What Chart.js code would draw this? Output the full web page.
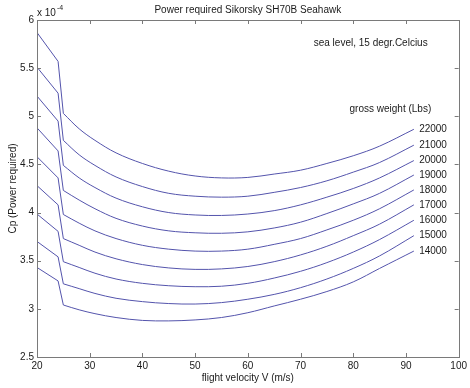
<!DOCTYPE html>
<html>
<head>
<meta charset="utf-8">
<script src="https://cdn.jsdelivr.net/npm/chart.js@4.4.1/dist/chart.umd.min.js"></script>
<style>
  html, body { margin: 0; padding: 0; background: #fff; }
  #wrap { width: 470px; height: 388px; }
</style>
</head>
<body>
<div id="wrap"><canvas id="chart" width="470" height="388"></canvas></div>
<script>
// flight velocity V (m/s), shared by all curves
const velocity = [20, 24, 25, 28, 31, 35, 40, 45, 50, 55, 60, 65, 70, 75, 80, 85, 91.5];

// gross weights (Lbs), top curve first
const weights = [22000, 21000, 20000, 19000, 18000, 17000, 16000, 15000, 14000];

// Cp (x 10^-4)
const cp22000 = [5.87, 5.57, 5.03, 4.87, 4.75, 4.62, 4.51, 4.43, 4.38, 4.36, 4.365, 4.40, 4.44, 4.51, 4.59, 4.69, 4.865];
const cp21000 = [5.51, 5.24, 4.75, 4.60, 4.49, 4.37, 4.27, 4.20, 4.17, 4.16, 4.17, 4.21, 4.26, 4.33, 4.42, 4.52, 4.70];
const cp20000 = [5.21, 4.95, 4.49, 4.36, 4.26, 4.15, 4.06, 4.00, 3.975, 3.97, 3.985, 4.02, 4.08, 4.16, 4.25, 4.36, 4.54];
const cp19000 = [4.88, 4.64, 4.23, 4.13, 4.04, 3.94, 3.86, 3.81, 3.79, 3.785, 3.80, 3.84, 3.90, 3.99, 4.09, 4.20, 4.39];
const cp18000 = [4.58, 4.36, 3.98, 3.89, 3.81, 3.73, 3.66, 3.62, 3.60, 3.60, 3.62, 3.67, 3.73, 3.82, 3.92, 4.04, 4.235];
const cp17000 = [4.28, 4.08, 3.73, 3.66, 3.59, 3.52, 3.46, 3.425, 3.41, 3.415, 3.44, 3.49, 3.56, 3.65, 3.76, 3.88, 4.08];
const cp16000 = [3.985, 3.805, 3.49, 3.43, 3.37, 3.31, 3.265, 3.24, 3.23, 3.235, 3.265, 3.32, 3.39, 3.48, 3.59, 3.72, 3.92];
const cp15000 = [3.70, 3.54, 3.26, 3.21, 3.16, 3.11, 3.075, 3.055, 3.05, 3.065, 3.10, 3.15, 3.22, 3.31, 3.42, 3.55, 3.76];
const cp14000 = [3.43, 3.29, 3.04, 2.99, 2.95, 2.91, 2.88, 2.875, 2.885, 2.91, 2.96, 3.03, 3.10, 3.18, 3.28, 3.42, 3.60];

const xTicks = [20, 30, 40, 50, 60, 70, 80, 90, 100];
const yTicks = [2.5, 3, 3.5, 4, 4.5, 5, 5.5, 6];

const series = [cp22000, cp21000, cp20000, cp19000, cp18000, cp17000, cp16000, cp15000, cp14000];

const lineColor = "#5454ac";
const axisColor = "#7a7a7a";
const textColor = "#1a1a1a";
const font = "10px 'Liberation Sans', Arial, sans-serif";

// split each curve: straight low-speed part (first 3 points) and smooth part
const datasets = [];
series.forEach((vals, i) => {
  const pts = velocity.map((v, k) => ({ x: v, y: vals[k] }));
  datasets.push({
    label: weights[i] + " low",
    data: pts.slice(0, 3),
    borderColor: lineColor,
    borderWidth: 1,
    pointRadius: 0,
    tension: 0,
  });
  datasets.push({
    label: String(weights[i]),
    data: pts.slice(2),
    borderColor: lineColor,
    borderWidth: 1,
    pointRadius: 0,
    tension: 0.35,
  });
});

// box, inward ticks and all the text annotations
const matlabAxes = {
  id: "matlabAxes",
  afterDraw(chart) {
    const { ctx, chartArea: a, scales } = chart;
    const xs = scales.x, ys = scales.y;
    const tl = 4;
    ctx.save();
    ctx.strokeStyle = axisColor;
    ctx.lineWidth = 1;
    ctx.strokeRect(Math.round(a.left) + 0.5, Math.round(a.top) + 0.5,
      Math.round(a.right - a.left), Math.round(a.bottom - a.top));
    ctx.beginPath();
    xTicks.forEach((t) => {
      const px = Math.round(xs.getPixelForValue(t)) + 0.5;
      ctx.moveTo(px, a.bottom); ctx.lineTo(px, a.bottom - tl);
      ctx.moveTo(px, a.top); ctx.lineTo(px, a.top + tl);
    });
    yTicks.forEach((t) => {
      const py = Math.round(ys.getPixelForValue(t)) + 0.5;
      ctx.moveTo(a.left, py); ctx.lineTo(a.left + tl, py);
      ctx.moveTo(a.right, py); ctx.lineTo(a.right - tl, py);
    });
    ctx.stroke();

    ctx.fillStyle = textColor;
    ctx.font = font;
    ctx.textBaseline = "middle";

    // title
    ctx.textAlign = "center";
    ctx.fillText("Power required Sikorsky SH70B Seahawk", (a.left + a.right) / 2, 10);

    // x axis label
    ctx.fillText("flight velocity V (m/s)", (a.left + a.right) / 2, 378);

    // y axis label
    ctx.save();
    ctx.translate(13, (a.top + a.bottom) / 2);
    ctx.rotate(-Math.PI / 2);
    ctx.fillText("Cp (Power required)", 0, 0);
    ctx.restore();

    // exponent
    ctx.textAlign = "left";
    ctx.fillText("x 10", a.left, 13);
    const w = ctx.measureText("x 10").width;
    ctx.font = "7px 'Liberation Sans', Arial, sans-serif";
    ctx.fillText("-4", a.left + w + 1, 8);
    ctx.font = font;

    // notes
    ctx.fillText("sea level, 15 degr.Celcius", xs.getPixelForValue(72.5), ys.getPixelForValue(5.76));
    ctx.fillText("gross weight (Lbs)", xs.getPixelForValue(79.3), ys.getPixelForValue(5.07));

    // curve labels at curve ends
    const last = velocity.length - 1;
    series.forEach((vals, i) => {
      ctx.fillText(String(weights[i]), xs.getPixelForValue(velocity[last] + 1),
        ys.getPixelForValue(vals[last]));
    });
    ctx.restore();
  },
};

new Chart(document.getElementById("chart"), {
  type: "line",
  data: { datasets },
  options: {
    responsive: false,
    animation: false,
    devicePixelRatio: 1,
    layout: { padding: { top: 20, right: 8, left: 0, bottom: 0 } },
    plugins: {
      legend: { display: false },
      tooltip: { enabled: false },
    },
    scales: {
      x: {
        type: "linear",
        min: 20,
        max: 100,
        afterBuildTicks: (s) => { s.ticks = xTicks.map((v) => ({ value: v })); },
        afterFit: (s) => { s.height = 31; },
        grid: { display: false, drawTicks: false },
        border: { display: false },
        ticks: {
          color: textColor,
          font: { family: "'Liberation Sans', Arial", size: 10 },
          padding: 3,
          maxRotation: 0,
          callback: (v) => String(v),
        },
      },
      y: {
        type: "linear",
        min: 2.5,
        max: 6,
        afterBuildTicks: (s) => { s.ticks = yTicks.map((v) => ({ value: v })); },
        afterFit: (s) => { s.width = 37; },
        grid: { display: false, drawTicks: false },
        border: { display: false },
        ticks: {
          color: textColor,
          font: { family: "'Liberation Sans', Arial", size: 10 },
          padding: 3,
          callback: (v) => String(v),
        },
      },
    },
  },
  plugins: [matlabAxes],
});
</script>
</body>
</html>
